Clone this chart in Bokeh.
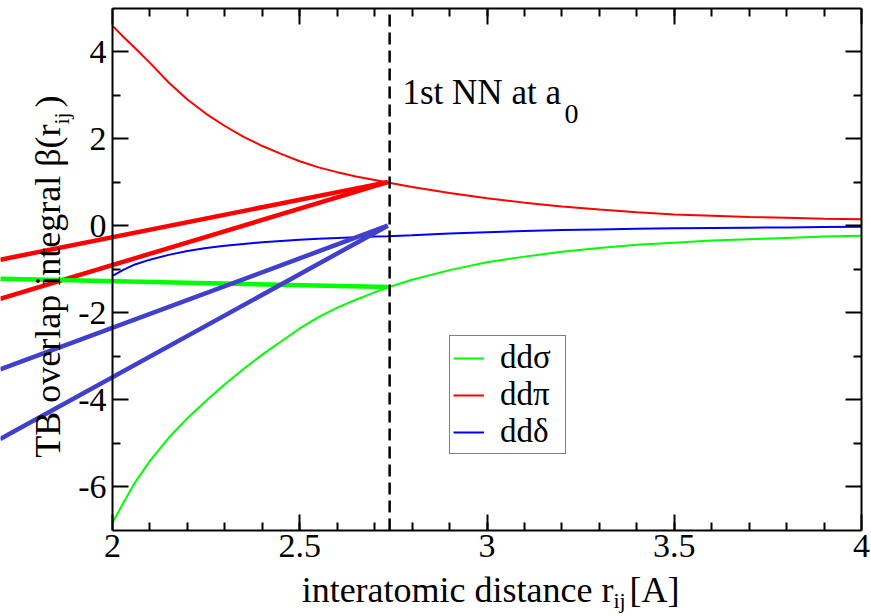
import math
from bokeh.plotting import figure
from bokeh.models import (Range1d, LinearAxis, FixedTicker, Label, Legend, LegendItem)
from bokeh.embed import file_html
from bokeh.resources import INLINE

# ---------------- data ----------------
r_curve = [2.0, 2.03, 2.06, 2.1, 2.15, 2.2, 2.25, 2.3, 2.35, 2.4, 2.45, 2.5,
           2.55, 2.6, 2.65, 2.7, 2.735, 2.8, 2.9, 3.0, 3.1, 3.2, 3.3, 3.4,
           3.5, 3.6, 3.7, 3.8, 3.9, 4.0]
dd_sigma = [-6.82, -6.35, -5.90, -5.40, -4.87, -4.42, -4.02, -3.64, -3.29,
            -2.96, -2.66, -2.36, -2.10, -1.88, -1.70, -1.53, -1.42, -1.24,
            -1.02, -0.84, -0.71, -0.60, -0.51, -0.44, -0.39, -0.34, -0.31,
            -0.28, -0.25, -0.23]
dd_pi = [4.59, 4.33, 4.08, 3.74, 3.29, 2.90, 2.57, 2.29, 2.04, 1.83, 1.65,
         1.48, 1.34, 1.23, 1.13, 1.05, 0.99, 0.89, 0.75, 0.63, 0.53, 0.44,
         0.37, 0.31, 0.26, 0.23, 0.20, 0.18, 0.16, 0.15]
dd_delta = [-1.15, -1.01, -0.89, -0.78, -0.67, -0.58, -0.51, -0.46, -0.42,
            -0.38, -0.35, -0.32, -0.30, -0.28, -0.265, -0.25, -0.24, -0.22,
            -0.18, -0.15, -0.12, -0.10, -0.085, -0.07, -0.06, -0.05, -0.045,
            -0.04, -0.03, -0.025]

a0 = 2.74                      # 1st nearest-neighbour distance
r_fit = [1.70, 2.735]          # straight-line fits
pi_fit_1 = [-0.78, 1.0]
pi_fit_2 = [-1.68, 1.0]
sigma_fit = [-1.22, -1.41]
delta_fit_1 = [-3.30, 0.0]
delta_fit_2 = [-4.90, 0.0]

x_lim = (2, 4)
y_lim = (-7, 5)
x_ticks = [2, 2.5, 3, 3.5, 4]
x_tick_labels = ["2", "2.5", "3", "3.5", "4"]
x_minor = [round(2 + 0.1 * i, 1) for i in range(1, 20)]
y_ticks = [-6, -4, -2, 0, 2, 4]
y_tick_labels = ["-6", "-4", "-2", "0", "2", "4"]
y_minor = [-5, -3, -1, 1, 3]

legend_labels = ["ddσ", "ddπ", "ddδ"]

# ---------------- geometry ----------------
W, H = 871, 616
X_LEFT, X_RIGHT = 112, 861       # page px of x = 2 and x = 4
Y_TOP, Y_BOTTOM = 7.5, 530       # page px of y = 5 and y = -7
PXX = (X_RIGHT - X_LEFT) / (x_lim[1] - x_lim[0])
PXY = (Y_BOTTOM - Y_TOP) / (y_lim[1] - y_lim[0])
x_start = x_lim[0] - X_LEFT / PXX
x_end = x_start + W / PXX
y_end = y_lim[1] + Y_TOP / PXY
y_start = y_end - H / PXY


def xpx(px):
    return x_lim[0] + (px - X_LEFT) / PXX


def ypx(py):
    return y_lim[1] - (py - Y_TOP) / PXY


FONT = "'Liberation Serif', 'Times New Roman', Times, serif"

p = figure(width=W, height=H, x_range=Range1d(x_start, x_end),
           y_range=Range1d(y_start, y_end), output_backend="svg",
           toolbar_location=None, x_axis_location=None, y_axis_location=None,
           min_border=0, outline_line_color=None,
           background_fill_color="white", border_fill_color="white")
p.xgrid.visible = False
p.ygrid.visible = False


def make_axis(loc, bounds, ticks, minor, labels, standoff):
    return LinearAxis(
        fixed_location=loc, bounds=bounds,
        ticker=FixedTicker(ticks=ticks, minor_ticks=minor),
        major_label_overrides={t: l for t, l in zip(ticks, labels)},
        axis_line_width=2, axis_line_color="black",
        major_tick_in=16, major_tick_out=0, major_tick_line_width=2,
        major_tick_line_color="black",
        minor_tick_in=8, minor_tick_out=0, minor_tick_line_width=2,
        minor_tick_line_color="black",
        major_label_text_font=FONT, major_label_text_font_size="34px",
        major_label_text_color="black",
        major_label_standoff=standoff)


p.add_layout(make_axis(y_lim[0], x_lim, x_ticks, x_minor, x_tick_labels, 4), "below")
p.add_layout(make_axis(y_lim[1], x_lim, x_ticks, x_minor, [""] * len(x_ticks), 4), "above")
p.add_layout(make_axis(x_lim[0], y_lim, y_ticks, y_minor, y_tick_labels, 6), "left")
p.add_layout(make_axis(x_lim[1], y_lim, y_ticks, y_minor, [""] * len(y_ticks), 6), "right")

# thin curves
r_sig = p.line(r_curve, dd_sigma, line_color="#00ff00", line_width=2)
r_pi = p.line(r_curve, dd_pi, line_color="#ff0000", line_width=2)
r_del = p.line(r_curve, dd_delta, line_color="#0000ff", line_width=2)

# thick linear fits
p.line(r_fit, pi_fit_1, line_color="#ff0000", line_width=4.5)
p.line(r_fit, pi_fit_2, line_color="#ff0000", line_width=4.5)
p.line(r_fit, sigma_fit, line_color="#00ff00", line_width=4.5)
p.line(r_fit, delta_fit_1, line_color="#4040cc", line_width=4.5)
p.line(r_fit, delta_fit_2, line_color="#4040cc", line_width=4.5)

# dashed nearest neighbour line
p.segment(x0=[a0], y0=[y_lim[0]], x1=[a0], y1=[y_lim[1]],
          line_color="black", line_width=2.5, line_dash="12 6")

# annotation text
p.add_layout(Label(x=xpx(402), y=ypx(92), text="1st NN at a", text_font=FONT,
                   text_font_size="35px", text_align="left",
                   text_baseline="alphabetic", text_color="black"))
p.add_layout(Label(x=xpx(564), y=ypx(113), text="0", text_font=FONT,
                   text_font_size="28px", text_align="left",
                   text_baseline="alphabetic", text_color="black"))

# x axis title
bx, by = xpx(613), ypx(589)
p.add_layout(Label(x=bx, y=by, text="interatomic distance r", text_font=FONT,
                   text_font_size="36px", text_align="right",
                   text_baseline="alphabetic", text_color="black"))
p.add_layout(Label(x=bx, y=by, text="ij", text_font=FONT, text_font_size="22px",
                   text_align="left", x_offset=0, y_offset=-11,
                   text_baseline="alphabetic", text_color="black"))
p.add_layout(Label(x=bx, y=by, text="[A]", text_font=FONT, text_font_size="36px",
                   text_align="left", x_offset=16,
                   text_baseline="alphabetic", text_color="black"))

# y axis title (rotated)
cx, cy = xpx(47), ypx(124)
p.add_layout(Label(x=cx, y=cy, text="TB overlap integral β(r", text_font=FONT,
                   text_font_size="36px", text_align="right", angle=math.pi / 2,
                   text_baseline="alphabetic", text_color="black"))
p.add_layout(Label(x=cx, y=cy, text="ij", text_font=FONT, text_font_size="22px",
                   text_align="left", angle=math.pi / 2, x_offset=14,
                   text_baseline="alphabetic", text_color="black"))
p.add_layout(Label(x=cx, y=cy, text=" )", text_font=FONT, text_font_size="36px",
                   text_align="left", angle=math.pi / 2, y_offset=17,
                   text_baseline="alphabetic", text_color="black"))

# legend
legend = Legend(items=[LegendItem(label=legend_labels[0], renderers=[r_sig]),
                       LegendItem(label=legend_labels[1], renderers=[r_pi]),
                       LegendItem(label=legend_labels[2], renderers=[r_del])],
                location=(449, 162), label_text_font=FONT,
                label_text_font_size="33px", label_text_color="black",
                glyph_width=31, glyph_height=20, label_standoff=16,
                label_width=62, padding=3, spacing=0, margin=0,
                border_line_color="black", border_line_width=1.5,
                background_fill_color="white", background_fill_alpha=1.0)
p.add_layout(legend)

open("out.html", "w").write(file_html(p, INLINE))
